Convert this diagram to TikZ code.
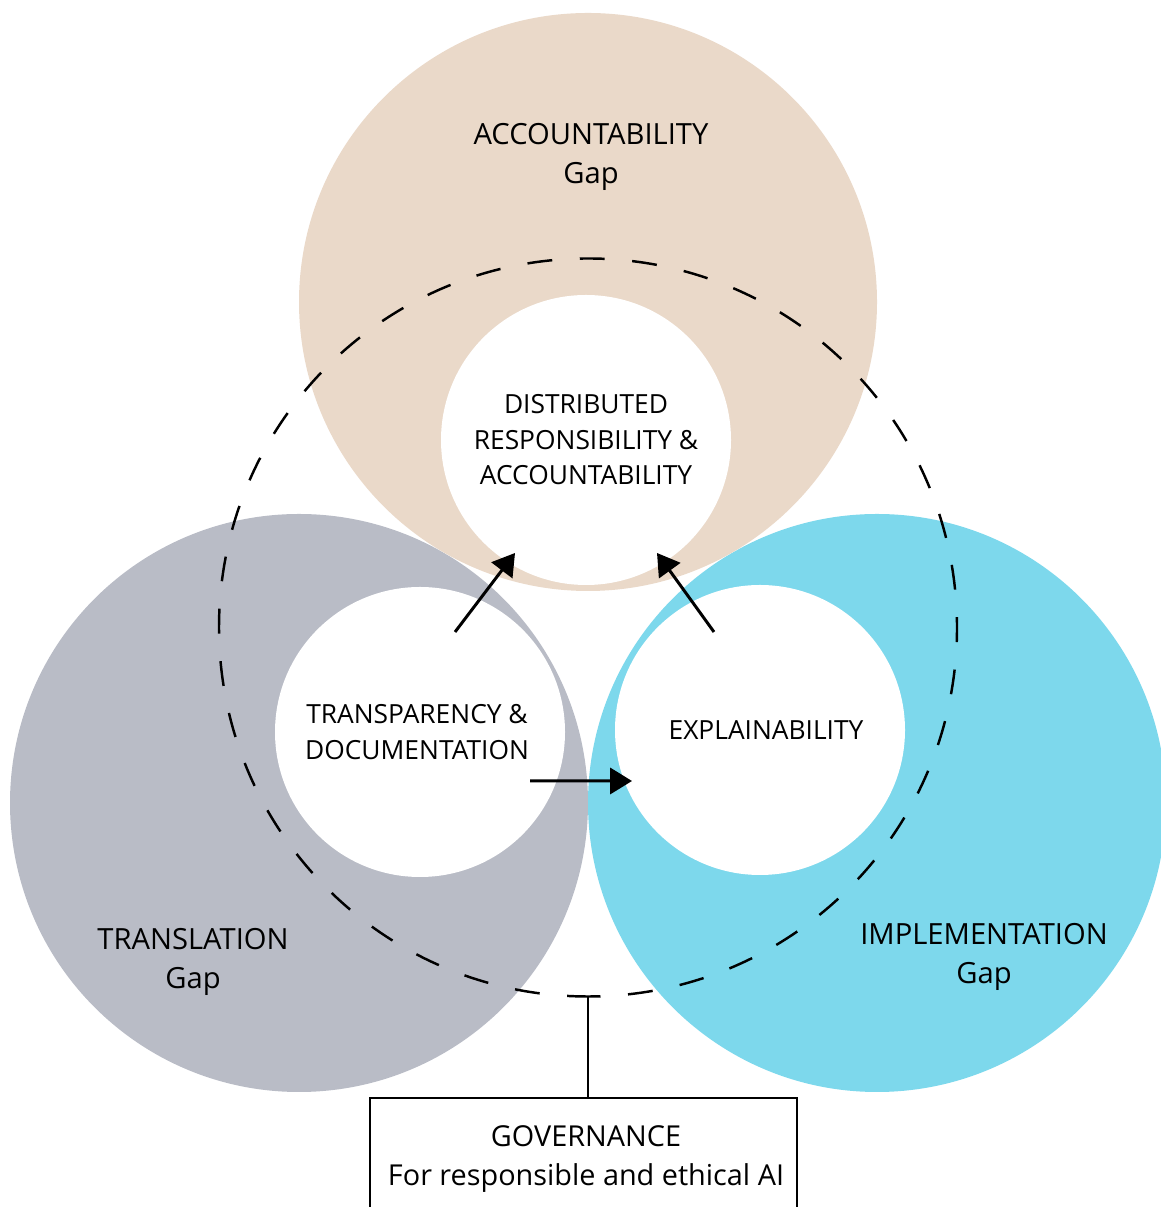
\documentclass[tikz,border=0pt]{standalone}
\usepackage{fontspec}
\setmainfont{Open Sans}
\usetikzlibrary{positioning,arrows.meta}

\definecolor{acctan}{RGB}{234,217,201}
\definecolor{transgray}{RGB}{185,188,198}
\definecolor{implcyan}{RGB}{125,216,236}

\tikzset{
  gapcircle/.style={circle, minimum size=5.78cm, inner sep=0pt},
  corecircle/.style={circle, fill=white, minimum size=2.9cm, inner sep=0pt,
    align=center, font=\fontsize{7.5}{10.1}\selectfont},
  gaplabel/.style={align=center, font=\fontsize{8.3}{11.1}\selectfont},
  flow/.style={line width=0.85pt, -{Triangle[length=6.2pt,width=7.4pt]}},
  govring/.style={line width=0.7pt, dash pattern=on 7.09pt off 7.85pt, dash phase=3.54pt},
}

\begin{document}
\begin{tikzpicture}
	\useasboundingbox (0,0) rectangle (11.61,12.07);

	% The three gaps
	\node[gapcircle, fill=transgray] (trans) at (2.99,4.04) {};
	\node[gapcircle, fill=implcyan] (impl) at (8.77,4.04) {};
	\node[gapcircle, fill=acctan] (acc) at (5.88,9.05) {};

	% What closes them
	\node[corecircle] (dra) at (5.86,7.67) {DISTRIBUTED\\RESPONSIBILITY \&\\ACCOUNTABILITY};
	\node[corecircle, text depth=0pt] (tdoc) at (4.20,4.75) {\hspace*{-0.06cm}TRANSPARENCY \&\\\hspace*{-0.06cm}DOCUMENTATION};
	\node[corecircle] (expl) at (7.60,4.77) {\hspace*{0.12cm}EXPLAINABILITY};

	% Gap labels
	\node[gaplabel] (acclbl) at (5.91,10.50) {ACCOUNTABILITY\\Gap};
	\node[gaplabel] (translbl) at (1.93,2.455) {TRANSLATION\\Gap};
	\node[gaplabel] (impllbl) at (9.84,2.505) {IMPLEMENTATION\\Gap};

	% Governance ring, a dash centred on the bottom point
	\coordinate (ringbot) at (5.88,2.105);
	\draw[govring] (ringbot) arc[start angle=-90, end angle=270, radius=3.69];

	% Arrows between the cores
	\coordinate (tdocup) at ([shift={(0.35,1.00)}]tdoc.center);
	\coordinate (explup) at ([shift={(-0.46,0.98)}]expl.center);
	\coordinate (tdocright) at ([shift={(1.10,-0.49)}]tdoc.center);
	\coordinate (drain) at ([shift={(-0.71,-1.13)}]dra.center);
	\coordinate (draine) at ([shift={(0.71,-1.13)}]dra.center);
	\coordinate (explin) at ([shift={(-1.28,-0.51)}]expl.center);
	\draw[flow] (tdocup) -- (drain);
	\draw[flow] (explup) -- (draine);
	\draw[flow] (tdocright) -- (explin);

	% Governance box
	\node[draw, line width=0.55pt, minimum width=4.27cm, minimum height=1.22cm,
		anchor=north, align=center, font=\fontsize{8.2}{11.1}\selectfont]
		(gov) at (5.835,1.10) {\hspace*{0.05cm}GOVERNANCE\\\hspace*{0.05cm}For responsible and ethical AI};
	\draw[line width=0.55pt] (ringbot) -- (ringbot |- gov.north);
\end{tikzpicture}
\end{document}
